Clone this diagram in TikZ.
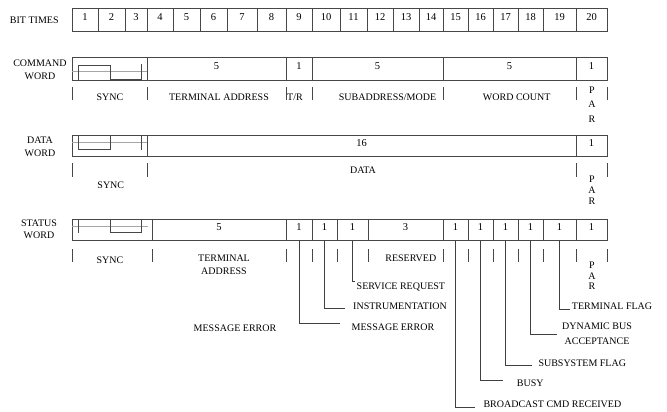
\documentclass[tikz,border=0pt]{standalone}
\usepackage{fontspec}
\setmainfont{Liberation Serif}
\begin{document}
\begin{tikzpicture}[x=1pt,y=-1pt,
  every node/.style={font=\fontsize{10}{11}\selectfont, inner sep=0pt, text=black},
  cell/.style={draw=black!72, line width=0.8pt, rectangle, font=\fontsize{10.5}{11}\selectfont, text height=7pt, text depth=5pt, inner sep=0pt},
  sep/.style={draw=black!72, line width=0.8pt},
  lead/.style={draw=black!75, line width=0.8pt},
  mid/.style={draw=black!35, line width=0.4pt},
  wave/.style={draw=black!72, line width=0.9pt},
  lbl/.style={anchor=west}
]
\useasboundingbox (0,0) rectangle (667,412);

% ---------- BIT TIMES ----------
\node (bitt) at (34.3,20.7) {BIT TIMES};
\foreach \l/\r/\t [count=\i] in {72/98/1,98/125/2,125/147/3,147/173/4,173/200/5,200/227/6,227/257/7,257/286/8,286/312/9,312/340/10,340/367/11,367/393/12,393/419/13,419/443/14,443/468/15,468/493/16,493/518/17,518/543/18,543/576/19,576/607/20}
  \node[cell, minimum width={(\r-\l)*1pt}, minimum height=23.7pt] (bt\i) at ({(\l+\r)/2},19.85) {\t};

% ---------- COMMAND WORD ----------
\node[align=center, font=\fontsize{10}{13.4}\selectfont] (cwl) at (40,70) {COMMAND\\WORD};
\foreach \l/\r/\t [count=\i] in {72/147/{},147/286/5,286/312/1,312/443/5,443/576/5,576/607/1}
  \node[cell, minimum width={(\r-\l)*1pt}, minimum height=22.7pt] (c\i) at ({(\l+\r)/2},68.65) {\t};
\draw[mid] (72,71.7) -- (147,71.7);
\draw[wave] (78.3,79.8) -- (78.3,65) -- (110,65) -- (110,79.8) -- (141.7,79.8) -- (141.7,64.5);
\foreach \x in {72,147,286,312,443,576,607} \draw[sep] (\x,87) -- (\x,100);
\node (csync) at (110,97) {SYNC};
\node (cta) at (219,97) {TERMINAL ADDRESS};
\node (ctr) at (295,97) {T/R};
\node (csub) at (387.5,97) {SUBADDRESS/MODE};
\node (cwc) at (516.7,97) {WORD COUNT};
\node[align=center, font=\fontsize{10}{14.6}\selectfont] (cpar) at (592,104.7) {P\\A\\R};

% ---------- DATA WORD ----------
\node[align=center, font=\fontsize{10}{13.4}\selectfont] (dwl) at (40,146.7) {DATA\\WORD};
\foreach \l/\r/\t [count=\i] in {72/147/{},147/576/16,576/607/1}
  \node[cell, minimum width={(\r-\l)*1pt}, minimum height=20.7pt] (d\i) at ({(\l+\r)/2},145.65) {\t};
\draw[mid] (72,142.3) -- (147,142.3);
\draw[wave] (78.3,135.3) -- (78.3,149.7) -- (110,149.7) -- (110,135.3) -- (141.7,135.3) -- (141.7,149.7);
\foreach \x in {72,147,576,607} \draw[sep] (\x,163) -- (\x,177);
\node (dsync) at (110.8,185) {SYNC};
\node (ddata) at (363,170) {DATA};
\node[align=center, font=\fontsize{10}{11}\selectfont] (dpar) at (592,190.7) {P\\A\\R};

% ---------- STATUS WORD ----------
\node[align=center, font=\fontsize{10}{12}\selectfont] (swl) at (39,229.3) {STATUS\\WORD};
\foreach \l/\r/\t [count=\i] in {72/152/{},152/286/5,286/312/1,312/337/1,337/368/1,368/443/3,443/468/1,468/493/1,493/518/1,518/543/1,543/576/1,576/607/1}
  \node[cell, minimum width={(\r-\l)*1pt}, minimum height=21.5pt] (s\i) at ({(\l+\r)/2},229.75) {\t};
\draw[mid] (72,226) -- (148,226);
\draw[wave] (78.3,232.7) -- (78.3,219) -- (110,219) -- (110,232.7) -- (141.7,232.7) -- (141.7,219);
\foreach \x in {72,152,286,312,337,368,443,468,493,518,543,576,607} \draw[sep] (\x,249) -- (\x,262);
\node (ssync) at (110,260) {SYNC};
\node[align=center, font=\fontsize{10}{13.4}\selectfont] (sta) at (224,265) {TERMINAL\\ADDRESS};
\node (sres) at (410.8,258.3) {RESERVED};
\node[align=center, font=\fontsize{10}{10.6}\selectfont] (spar) at (592,276) {P\\A\\R};

% ---------- status bit labels ----------
\node (me0) at (235,328.3) {MESSAGE ERROR};
\node[lbl] (me) at (351.5,327) {MESSAGE ERROR};
\node[lbl] (ins) at (353,306.7) {INSTRUMENTATION};
\node[lbl] (sr) at (356.5,286.5) {SERVICE REQUEST};
\node[lbl] (tf) at (571.7,306.7) {TERMINAL FLAG};
\node[align=center, font=\fontsize{10}{15}\selectfont] (dba) at (597,334.2) {DYNAMIC BUS\\ACCEPTANCE};
\node[lbl] (sf) at (538.3,363.3) {SUBSYSTEM FLAG};
\node[lbl] (busy) at (516.7,383.3) {BUSY};
\node[lbl] (bcr) at (483.3,404) {BROADCAST CMD RECEIVED};

\draw[lead] (s3.south) |- ([xshift=-11.5pt,yshift=4pt]me.west);
\draw[lead] (s4.south) |- ([xshift=-8pt,yshift=-1.6pt]ins.west);
\draw[lead] (s5.south) |- ([xshift=-1.5pt,yshift=5pt]sr.west);
\draw[lead] (s11.south) |- ([xshift=-1.7pt,yshift=-2.6pt]tf.west);
\draw[lead] (s10.south) |- ([xshift=-5pt]dba.west);
\draw[lead] (s9.south) |- ([xshift=-6.6pt,yshift=-1.7pt]sf.west);
\draw[lead] (s8.south) |- ([xshift=-13.4pt,yshift=3.3pt]busy.west);
\draw[lead] (s7.south) |- ([xshift=-8.3pt,yshift=-3.3pt]bcr.west);
\end{tikzpicture}
\end{document}
